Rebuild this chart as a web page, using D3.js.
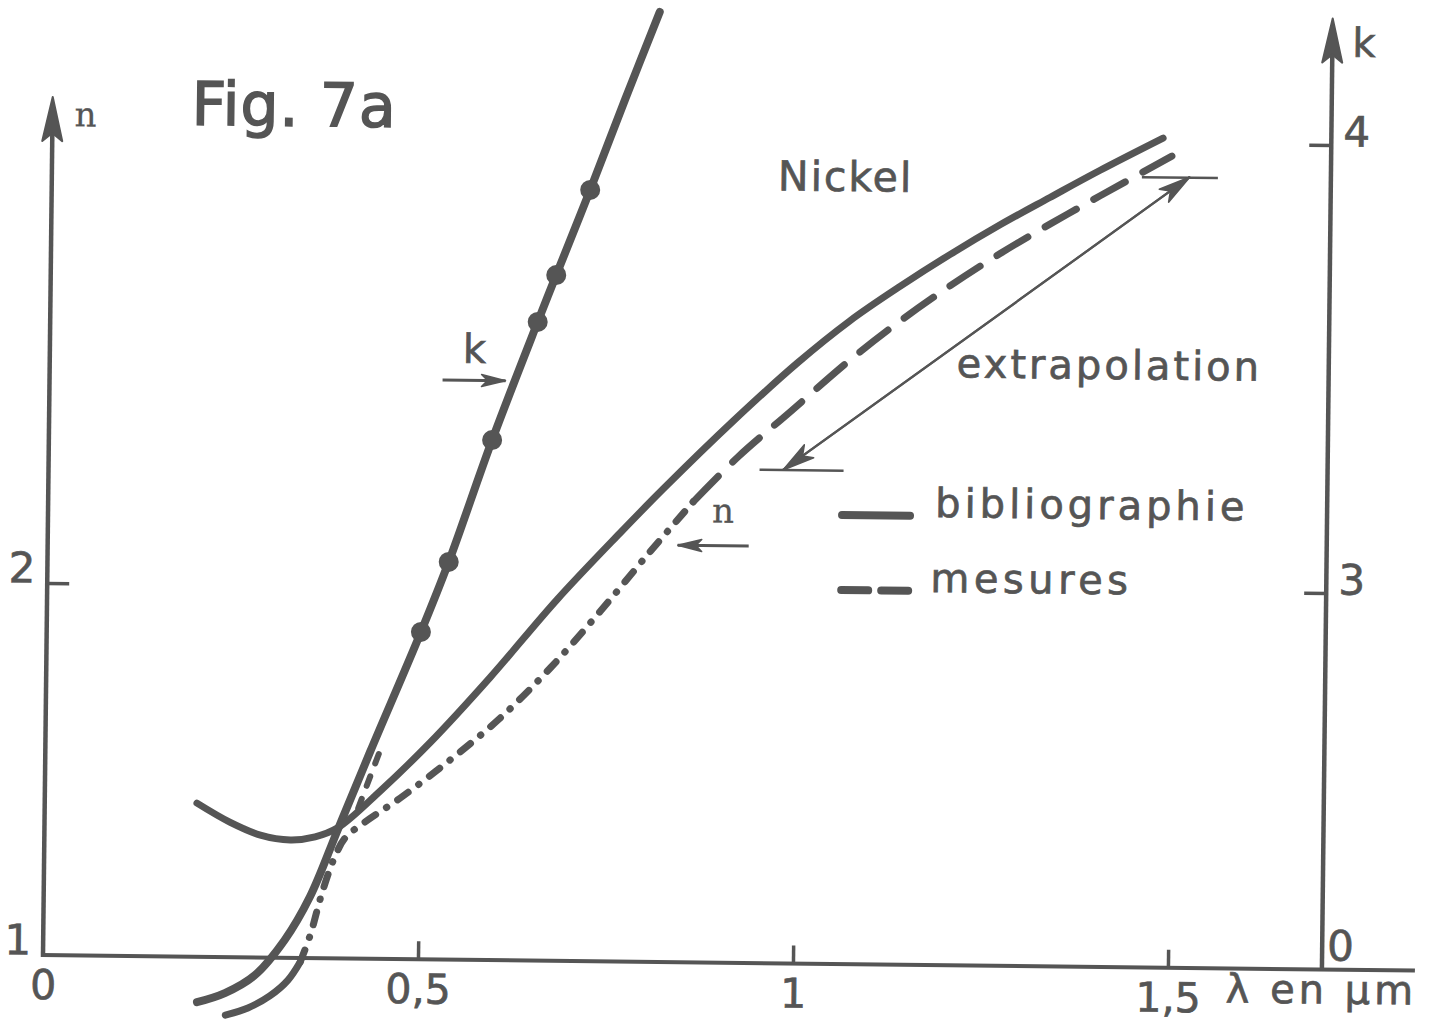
<!DOCTYPE html>
<html>
<head>
<meta charset="utf-8">
<script src="https://cdn.jsdelivr.net/npm/d3@7"></script>
<style>
  body { margin: 0; background: #fff; }
  text { font-family: "DejaVu Sans", sans-serif; fill: #555; stroke: #555; stroke-width: 0.7px; }
</style>
</head>
<body>
<script>
// Nickel - Fig. 7a : indices n and k against wavelength (lambda in micrometres)

// n, bibliographie (solid line)
const nBiblioLambda = [0.203, 0.247, 0.288, 0.328, 0.361, 0.391, 0.447, 0.513, 0.592, 0.680, 0.763, 0.820, 0.912, 0.996, 1.066, 1.133, 1.199, 1.265, 1.331, 1.397, 1.481];
const nBiblio       = [1.413, 1.363, 1.329, 1.317, 1.326, 1.351, 1.451, 1.583, 1.760, 1.971, 2.152, 2.272, 2.456, 2.613, 2.729, 2.824, 2.911, 2.992, 3.067, 3.141, 3.230];

// n, mesures : lower solid stub, dash-dot part, dashed part
const nMesLowLambda = [0.244, 0.274, 0.303, 0.327, 0.343];
const nMesLow       = [0.844, 0.864, 0.897, 0.940, 0.989];
const nMesDotLambda = [0.343, 0.356, 0.371, 0.387, 0.401, 0.427, 0.474, 0.540, 0.606, 0.672, 0.737, 0.803, 0.860];
const nMesDot       = [0.989, 1.062, 1.175, 1.270, 1.324, 1.367, 1.433, 1.537, 1.651, 1.787, 1.939, 2.102, 2.238];
const nMesDashLambda = [0.860, 0.919, 0.988, 1.067, 1.133, 1.199, 1.265, 1.332, 1.398, 1.493];
const nMesDash       = [2.238, 2.360, 2.483, 2.624, 2.730, 2.826, 2.914, 2.996, 3.073, 3.182];

// k, bibliographie (steep solid line)
const kBiblioLambda = [0.206, 0.243, 0.283, 0.322, 0.355, 0.391, 0.433, 0.499, 0.535, 0.591, 0.650, 0.674, 0.718, 0.763, 0.808];
const kBiblio       = [2.058, 2.079, 2.120, 2.199, 2.296, 2.446, 2.621, 2.890, 3.047, 3.320, 3.585, 3.690, 3.881, 4.083, 4.280];

// k, mesures (points and a short dashed piece)
const kMesLambda = [0.499, 0.535, 0.591, 0.650, 0.674, 0.718];
const kMes       = [2.890, 3.047, 3.320, 3.585, 3.690, 3.881];
const kMesDashLambda = [0.414, 0.444];
const kMesDash       = [2.495, 2.632];

// ticks
const xTicks = [0, 0.5, 1, 1.5];
const xTickLabels = ["0", "0,5", "1", "1,5"];
const nTicks = [1, 2];
const kTicks = [3, 4];

const ink = "#555";
const width = 1439, height = 1032;

const svg = d3.select("body").append("svg")
    .attr("width", width)
    .attr("height", height);

// the scanned sheet is a little tilted
const g = svg.append("g").attr("transform", "rotate(0.65,42,955)");

const x = d3.scaleLinear().domain([0, 1.5]).range([43, 1168]);
const yN = d3.scaleLinear().domain([1, 2]).range([955, 583]);
const yK = d3.scaleLinear().domain([3, 4]).range([578.4, 130.4]);

const rightX = 1322;

// ---- axes lines
g.append("line").attr("x1", 42).attr("y1", yN(1)).attr("x2", 1415).attr("y2", yN(1))
    .attr("stroke", ink).attr("stroke-width", 4);
g.append("line").attr("x1", x(0)).attr("y1", yN(1) + 2).attr("x2", x(0)).attr("y2", 130)
    .attr("stroke", ink).attr("stroke-width", 4.5);
g.append("line").attr("x1", rightX).attr("y1", yN(1)).attr("x2", rightX).attr("y2", 40)
    .attr("stroke", ink).attr("stroke-width", 4.5);

function axisArrow(cx, tipY) {
    g.append("path")
        .attr("d", `M${cx},${tipY} L${cx - 10},${tipY + 44} L${cx},${tipY + 36} L${cx + 10},${tipY + 44} Z`)
        .attr("fill", ink).attr("stroke", ink).attr("stroke-width", 2).attr("stroke-linejoin", "round");
}
axisArrow(x(0), 97);
axisArrow(rightX, 4);

// ---- ticks with d3 axes
function styleAxis(sel, size) {
    sel.select(".domain").remove();
    sel.selectAll(".tick line").attr("stroke", ink).attr("stroke-width", 3.5);
    sel.selectAll(".tick text")
        .style("font-family", '"DejaVu Sans", sans-serif')
        .style("font-size", size + "px")
        .attr("fill", ink);
}

const xAxisG = g.append("g")
    .attr("transform", `translate(0,${yN(1)})`)
    .call(d3.axisBottom(x).tickValues(xTicks)
        .tickFormat((d, i) => xTickLabels[i])
        .tickSizeInner(-18).tickSizeOuter(0).tickPadding(15));
styleAxis(xAxisG, 41);
xAxisG.selectAll(".tick").filter(d => d === 0).select("line").remove();

const nAxisG = g.append("g")
    .attr("transform", `translate(${x(0)},0)`)
    .call(d3.axisLeft(yN).tickValues(nTicks).tickFormat(d3.format("d"))
        .tickSizeInner(-22).tickSizeOuter(0).tickPadding(12));
styleAxis(nAxisG, 42);
nAxisG.selectAll(".tick text").attr("dy", "-0.02em");
nAxisG.selectAll(".tick").filter(d => d === 1).select("line").remove();

const kAxisG = g.append("g")
    .attr("transform", `translate(${rightX},0)`)
    .call(d3.axisRight(yK).tickValues(kTicks).tickFormat(d3.format("d"))
        .tickSizeInner(-22).tickSizeOuter(0).tickPadding(12));
styleAxis(kAxisG, 42);
kAxisG.selectAll(".tick text").attr("dy", "0.02em");

// ---- curves
const line = d3.line().curve(d3.curveCatmullRom.alpha(0.5));
const ptsN = (ls, vs) => ls.map((l, i) => [x(l), yN(vs[i])]);
const ptsK = (ls, vs) => ls.map((l, i) => [x(l), yK(vs[i])]);

function curve(points, w, dash) {
    const p = g.append("path")
        .attr("d", line(points))
        .attr("fill", "none")
        .attr("stroke", ink)
        .attr("stroke-width", w)
        .attr("stroke-linecap", "round")
        .attr("stroke-linejoin", "round");
    if (dash) p.attr("stroke-dasharray", dash);
    return p;
}

curve(ptsK(kBiblioLambda, kBiblio), 8);
curve(ptsN(nBiblioLambda, nBiblio), 7);
curve(ptsN(nMesLowLambda, nMesLow), 7);
curve(ptsN(nMesDotLambda, nMesDot), 7, "13 13 0.5 13");
curve(ptsN(nMesDashLambda, nMesDash), 7, "36 20");
curve(ptsK(kMesDashLambda, kMesDash).map(p => [p[0] + 3, p[1]]), 6, "10 14");

g.selectAll("circle.kmes")
    .data(kMesLambda)
    .enter()
    .append("circle")
    .attr("class", "kmes")
    .attr("cx", (d, i) => x(d))
    .attr("cy", (d, i) => yK(kMes[i]))
    .attr("r", 10)
    .attr("fill", ink);

// ---- arrows
function arrow(x1, y1, x2, y2, len, hw, w) {
    g.append("line").attr("x1", x1).attr("y1", y1).attr("x2", x2).attr("y2", y2)
        .attr("stroke", ink).attr("stroke-width", w);
    const a = Math.atan2(y2 - y1, x2 - x1) * 180 / Math.PI;
    g.append("path")
        .attr("d", `M0,0 L${-len},${-hw} L${-len * 0.75},0 L${-len},${hw} Z`)
        .attr("transform", `translate(${x2},${y2}) rotate(${a})`)
        .attr("fill", ink).attr("stroke", ink).attr("stroke-width", 1.5).attr("stroke-linejoin", "round");
}

// extrapolation double arrow
const exTop = [1181, 164], exBot = [777.5, 461.6];
g.append("line").attr("x1", 1133).attr("y1", 164.7).attr("x2", 1209).attr("y2", 164.7)
    .attr("stroke", ink).attr("stroke-width", 2.5);
g.append("line").attr("x1", 754).attr("y1", 461.7).attr("x2", 838).attr("y2", 461.7)
    .attr("stroke", ink).attr("stroke-width", 2.5);
arrow(exBot[0], exBot[1], exTop[0], exTop[1], 32, 8, 2.2);
arrow(exTop[0], exTop[1], exBot[0], exBot[1], 32, 8, 2.2);

// k and n pointers
arrow(436, 375.5, 499, 375.5, 24, 6, 3);
arrow(744, 538, 673, 538, 24, 6, 3);

// ---- legend
g.append("line").attr("x1", 837).attr("y1", 506).attr("x2", 905).attr("y2", 506)
    .attr("stroke", ink).attr("stroke-width", 8).attr("stroke-linecap", "round");
g.append("line").attr("x1", 837).attr("y1", 581).attr("x2", 905).attr("y2", 581)
    .attr("stroke", ink).attr("stroke-width", 8).attr("stroke-linecap", "round")
    .attr("stroke-dasharray", "27 13");

// ---- texts
function label(tx, ty, str, size, spacing, family) {
    const t = g.append("text")
        .attr("x", tx).attr("y", ty)
        .style("font-size", size + "px")
        .text(str);
    if (spacing) t.style("letter-spacing", spacing + "px");
    if (family) t.style("font-family", family);
    return t;
}

label(182, 123, "Fig. 7a", 60, 1).style("stroke-width", "1.6px");
label(65, 126, "n", 34, 0, '"DejaVu Serif", serif').style("stroke-width", "0.3px");
label(769, 182, "Nickel", 41, 2);
label(1342, 42, "k", 40);
label(456, 358, "k", 40);
label(707, 515, "n", 34, 0, '"DejaVu Serif", serif').style("stroke-width", "0.3px");
label(950, 367, "extrapolation", 40, 3);
label(930, 507, "bibliographie", 40, 4);
label(926, 582, "mesures", 40, 4.5);
label(1226, 989, "λ en μm", 40, 4);
label(1327, 946, "0", 42);
</script>
</body>
</html>
